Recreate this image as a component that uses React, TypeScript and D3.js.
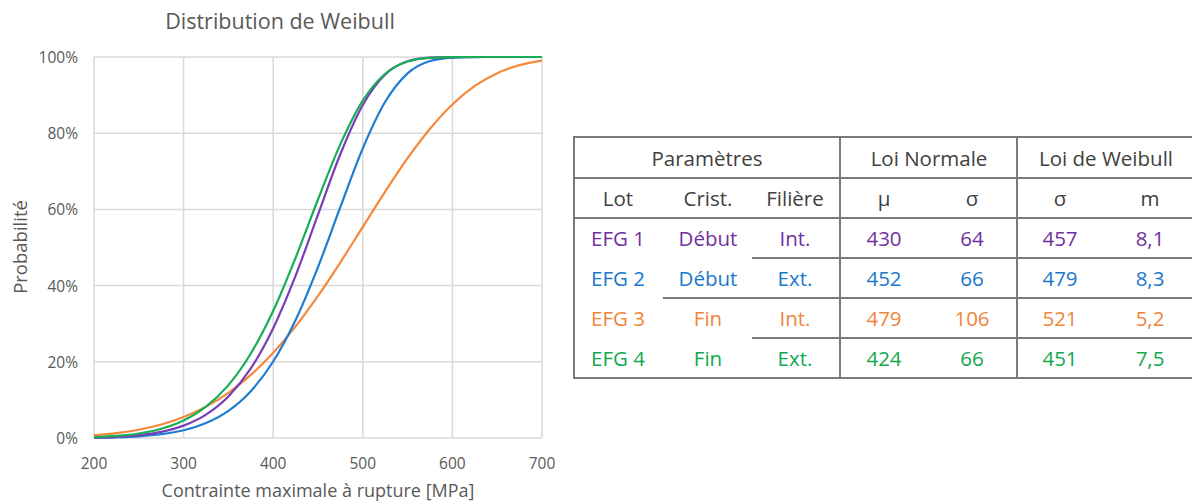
import React, { useEffect } from "react";
import * as d3 from "d3";

// ---------- DATA ----------
const xValues = [200, 225, 250, 275, 300, 325, 350, 375, 400, 425, 450, 475, 500, 525, 550, 575, 600, 625, 650, 675, 700];
const efg1 = [0.0012, 0.0032, 0.0075, 0.0162, 0.0325, 0.0613, 0.1089, 0.1825, 0.2882, 0.4262, 0.5862, 0.7453, 0.874, 0.9539, 0.9887, 0.9984, 0.9999, 1, 1, 1, 1];
const efg2 = [0.0007, 0.0019, 0.0045, 0.01, 0.0204, 0.0392, 0.0713, 0.1229, 0.2007, 0.3097, 0.4487, 0.6065, 0.7602, 0.8824, 0.9571, 0.9895, 0.9985, 0.9999, 1, 1, 1];
const efg3 = [0.0069, 0.0126, 0.0217, 0.0354, 0.0551, 0.0824, 0.1187, 0.1655, 0.2236, 0.293, 0.373, 0.4612, 0.554, 0.6468, 0.7343, 0.8118, 0.8755, 0.924, 0.9576, 0.9786, 0.9904];
const efg4 = [0.0022, 0.0054, 0.0119, 0.0242, 0.0459, 0.0821, 0.1387, 0.2217, 0.334, 0.473, 0.626, 0.7713, 0.8855, 0.9561, 0.9881, 0.9979, 0.9998, 1, 1, 1, 1];

const xTicks = [200, 300, 400, 500, 600, 700];
const yTicks = [0, 0.2, 0.4, 0.6, 0.8, 1];

const lots = ["EFG 1", "EFG 2", "EFG 3", "EFG 4"];
const crist = ["Début", "Début", "Fin", "Fin"];
const filiere = ["Int.", "Ext.", "Int.", "Ext."];
const muN = ["430", "452", "479", "424"];
const sigmaN = ["64", "66", "106", "66"];
const sigmaW = ["457", "479", "521", "451"];
const mW = ["8,1", "8,3", "5,2", "7,5"];

const lineColors = ["#7B3DB6", "#1C7DD2", "#F5883B", "#19AE55"];
const textColors = ["#7030A0", "#1A78CC", "#F0843A", "#12A84E"];
// draw order (back to front)
const drawOrder = [2, 1, 0, 3];
const series = [efg1, efg2, efg3, efg4];

const FONT = "'Open Sans', Lato, sans-serif";

export default function App() {
  useEffect(() => {
    document.body.style.margin = "0";
  }, []);

  const W = 1192, H = 503;
  const left = 94, right = 542, top = 57, bottom = 438;
  const x = d3.scaleLinear().domain([200, 700]).range([left, right]);
  const y = d3.scaleLinear().domain([0, 1]).range([bottom, top]);

  const line = d3
    .line<number>()
    .x((_, i) => x(xValues[i]))
    .y((d) => y(d))
    .curve(d3.curveMonotoneX);

  // table geometry
  const tL = 574, tTop = 137;
  const rowY = [137, 178, 218, 258, 298, 338, 378];
  const vLines = [840, 1017];
  const colX = [618, 708, 795, 884, 972, 1060, 1150];
  const tableStroke = "#7A7A7A";
  const tFont = 20.5;

  const rowCenter = (r: number) => (rowY[r] + rowY[r + 1]) / 2;

  return (
    <svg width={W} height={H} style={{ display: "block", background: "#fff" }} fontFamily={FONT}>
      {/* title */}
      <text x={280} y={20} textAnchor="middle" dominantBaseline="central" fontSize={21.5} fill="#595959">
        Distribution de Weibull
      </text>

      {/* grid */}
      {xTicks.map((t) => (
        <line key={"gx" + t} x1={x(t)} x2={x(t)} y1={top} y2={bottom} stroke="#D9D9D9" strokeWidth={1.5} />
      ))}
      {yTicks.map((t) => (
        <line key={"gy" + t} x1={left} x2={right} y1={y(t)} y2={y(t)} stroke="#D9D9D9" strokeWidth={1.5} />
      ))}

      {/* tick labels */}
      {yTicks.map((t) => (
        <text key={"ty" + t} x={78} y={y(t)} textAnchor="end" dominantBaseline="central" fontSize={15.5} fill="#595959">
          {d3.format(".0%")(t)}
        </text>
      ))}
      {xTicks.map((t) => (
        <text key={"tx" + t} x={x(t)} y={463} textAnchor="middle" dominantBaseline="central" fontSize={15.5} fill="#595959">
          {t}
        </text>
      ))}

      {/* axis titles */}
      <text x={318} y={490} textAnchor="middle" dominantBaseline="central" fontSize={18} fill="#595959">
        Contrainte maximale à rupture [MPa]
      </text>
      <text
        transform={`translate(19,247) rotate(-90)`}
        textAnchor="middle"
        dominantBaseline="central"
        fontSize={18.5}
        fill="#595959"
      >
        Probabilité
      </text>

      {/* curves */}
      {drawOrder.map((i) => (
        <path key={"s" + i} d={line(series[i]) || ""} fill="none" stroke={lineColors[i]} strokeWidth={2.2} />
      ))}

      {/* table lines */}
      <g stroke={tableStroke} strokeWidth={2}>
        <line x1={tL} x2={W + 2} y1={rowY[0]} y2={rowY[0]} />
        <line x1={tL} x2={W + 2} y1={rowY[1]} y2={rowY[1]} />
        <line x1={tL} x2={W + 2} y1={rowY[2]} y2={rowY[2]} />
        <line x1={tL} x2={W + 2} y1={rowY[6]} y2={rowY[6]} />
        {/* inner row separators */}
        <line x1={752} x2={W + 2} y1={rowY[3]} y2={rowY[3]} />
        <line x1={663} x2={W + 2} y1={rowY[4]} y2={rowY[4]} />
        <line x1={752} x2={W + 2} y1={rowY[5]} y2={rowY[5]} />
        {/* verticals */}
        <line x1={tL} x2={tL} y1={tTop - 1} y2={rowY[6] + 1} />
        {vLines.map((vx) => (
          <line key={"v" + vx} x1={vx} x2={vx} y1={tTop} y2={rowY[6]} />
        ))}
      </g>

      {/* table headers */}
      <g fontSize={tFont} fill="#404040" textAnchor="middle" dominantBaseline="central">
        <text x={707} y={rowCenter(0)}>Paramètres</text>
        <text x={929} y={rowCenter(0)}>Loi Normale</text>
        <text x={1106} y={rowCenter(0)}>Loi de Weibull</text>
        <text x={colX[0]} y={rowCenter(1)}>Lot</text>
        <text x={colX[1]} y={rowCenter(1)}>Crist.</text>
        <text x={colX[2]} y={rowCenter(1)}>Filière</text>
        <text x={colX[3]} y={rowCenter(1)}>μ</text>
        <text x={colX[4]} y={rowCenter(1)}>σ</text>
        <text x={colX[5]} y={rowCenter(1)}>σ</text>
        <text x={colX[6]} y={rowCenter(1)}>m</text>
      </g>

      {/* table body */}
      <g fontSize={tFont} textAnchor="middle" dominantBaseline="central">
        {lots.map((lot, i) => {
          const cy = rowCenter(i + 2);
          const vals = [lot, crist[i], filiere[i], muN[i], sigmaN[i], sigmaW[i], mW[i]];
          return vals.map((v, j) => (
            <text key={`c${i}-${j}`} x={colX[j]} y={cy} fill={textColors[i]}>
              {v}
            </text>
          ));
        })}
      </g>
    </svg>
  );
}
